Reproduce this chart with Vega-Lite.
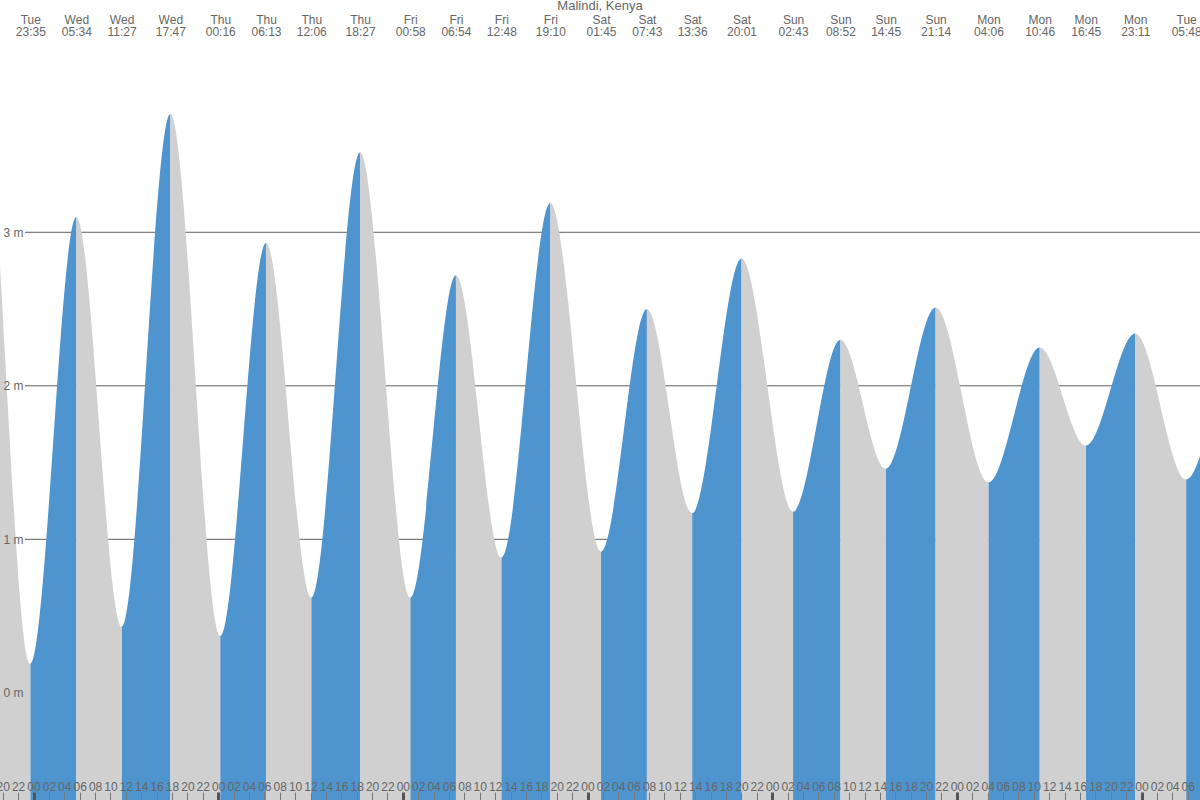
{
  "$schema": "https://vega.github.io/schema/vega-lite/v6.json",
  "width": 1200,
  "height": 800,
  "autosize": {"type": "none"},
  "padding": 0,
  "background": "white",
  "title": {"text": "Malindi, Kenya", "font": "Liberation Sans", "fontSize": 13, "fontWeight": "normal", "color": "#666666", "anchor": "middle", "baseline": "alphabetic", "offset": 0, "dy": 23},
  "config": {"view": {"stroke": null}, "axis": {"labelFont": "Liberation Sans", "labelFontSize": 12, "labelColor": "#666666", "title": null}},
  "datasets": {
    "tides": [
      {"t": -405, "h": 4.0},
      {"t": -25, "h": 0.19},
      {"t": 334, "h": 3.10},
      {"t": 687, "h": 0.43},
      {"t": 1067, "h": 3.77},
      {"t": 1456, "h": 0.37},
      {"t": 1813, "h": 2.93},
      {"t": 2166, "h": 0.62},
      {"t": 2547, "h": 3.52},
      {"t": 2938, "h": 0.62},
      {"t": 3294, "h": 2.72},
      {"t": 3648, "h": 0.88},
      {"t": 4030, "h": 3.19},
      {"t": 4425, "h": 0.92},
      {"t": 4783, "h": 2.50},
      {"t": 5136, "h": 1.17},
      {"t": 5521, "h": 2.83},
      {"t": 5923, "h": 1.18},
      {"t": 6292, "h": 2.30},
      {"t": 6645, "h": 1.46},
      {"t": 7034, "h": 2.51},
      {"t": 7446, "h": 1.37},
      {"t": 7846, "h": 2.25},
      {"t": 8205, "h": 1.61},
      {"t": 8591, "h": 2.34},
      {"t": 8988, "h": 1.39},
      {"t": 9365, "h": 2.16}
    ],
    "grid": [{"level": 1}, {"level": 2}, {"level": 3}]
  },
  "layer": [
    {
      "data": {"name": "grid"},
      "mark": {"type": "rule", "color": "#5e5e5e", "strokeWidth": 1},
      "encoding": {
        "y": {"field": "level", "type": "quantitative",
              "scale": {"domain": [-0.698, 4.513], "nice": false, "zero": false},
              "axis": {"values": [0, 1, 2, 3], "orient": "left", "offset": -25, "domain": false, "ticks": false, "grid": false, "labelPadding": 2, "labelExpr": "datum.value + ' m'", "zindex": 1}},
        "x": {"datum": -1.105, "type": "quantitative", "axis": null},
        "x2": {"datum": 152}
      }
    },
    {
      "data": {"name": "tides"},
      "transform": [
        {"calculate": "datum.t / 60", "as": "hr"},
        {"window": [{"op": "lead", "field": "hr", "as": "hr2"}, {"op": "lead", "field": "h", "as": "h2"}, {"op": "row_number", "as": "seg"}], "sort": [{"field": "hr"}]},
        {"filter": "datum.hr2 != null"},
        {"filter": "datum.h2 > datum.h"},
        {"calculate": "[0, 1, 2, 3]", "as": "k"},
        {"flatten": ["k"]},
        {"calculate": "datum.k == 0 ? datum.hr - 0.01 : datum.k == 1 ? datum.hr : datum.k == 2 ? datum.hr2 : datum.hr2 + 0.01", "as": "px"},
        {"calculate": "datum.k < 2 ? datum.h : datum.h2", "as": "py"}
      ],
      "mark": {"type": "area", "interpolate": "monotone", "color": "#4e94ce", "clip": true},
      "encoding": {
        "x": {"field": "px", "type": "quantitative",
              "scale": {"domain": [-4.354, 151.6], "nice": false, "zero": false},
              "axis": {"orient": "bottom", "offset": -8, "tickCount": 78, "domain": false, "grid": false, "tickSize": 8,
                       "tickWidth": {"condition": {"test": "datum.value % 24 === 0", "value": 3}, "value": 1},
                       "tickColor": {"condition": {"test": "datum.value % 24 === 0", "value": "#555555"}, "value": "#777777"},
                       "labelPadding": -10, "labelBaseline": "alphabetic", "labelOverlap": false, "labelFlush": false, "labelBound": false,
                       "labelExpr": "format(((datum.value % 24) + 24) % 24, '02d')", "zindex": 1}},
        "y": {"field": "py", "type": "quantitative", "stack": null,
              "axis": {"values": [0, 1, 2, 3], "orient": "left", "offset": -25, "domain": false, "ticks": false, "grid": false, "labelPadding": 2, "labelExpr": "datum.value + ' m'", "zindex": 1}},
        "y2": {"value": "height"},
        "detail": {"field": "seg", "type": "nominal"}
      }
    },
    {
      "data": {"name": "tides"},
      "transform": [
        {"calculate": "datum.t / 60", "as": "hr"},
        {"window": [{"op": "lead", "field": "hr", "as": "hr2"}, {"op": "lead", "field": "h", "as": "h2"}, {"op": "row_number", "as": "seg"}], "sort": [{"field": "hr"}]},
        {"filter": "datum.hr2 != null"},
        {"filter": "datum.h2 < datum.h"},
        {"calculate": "[0, 1, 2, 3]", "as": "k"},
        {"flatten": ["k"]},
        {"calculate": "datum.k == 0 ? datum.hr - 0.01 : datum.k == 1 ? datum.hr : datum.k == 2 ? datum.hr2 : datum.hr2 + 0.01", "as": "px"},
        {"calculate": "datum.k < 2 ? datum.h : datum.h2", "as": "py"}
      ],
      "mark": {"type": "area", "interpolate": "monotone", "color": "#d0d0d0", "clip": true},
      "encoding": {
        "x": {"field": "px", "type": "quantitative",
              "axis": {"orient": "top", "offset": -26, "ticks": false, "domain": false, "grid": false, "labelPadding": 0,
                       "values": [-0.41667, 5.56667, 11.45, 17.78333, 24.26667, 30.21667, 36.1, 42.45, 48.96667, 54.9, 60.8, 67.16667, 73.75, 79.71667, 85.6, 92.01667, 98.71667, 104.86667, 110.75, 117.23333, 124.1, 130.76667, 136.75, 143.18333, 149.8],
                       "labelBaseline": "bottom", "labelLineHeight": 12.5, "labelOverlap": false, "labelFlush": false, "labelBound": false,
                       "labelExpr": "[['Tue','Wed','Thu','Fri','Sat','Sun','Mon','Tue'][floor(round(datum.value*60)/1440)+1], format(floor(((round(datum.value*60) % 1440 + 1440) % 1440)/60), '02d') + ':' + format((round(datum.value*60) % 60 + 60) % 60, '02d')]",
                       "zindex": 1}},
        "y": {"field": "py", "type": "quantitative", "stack": null,
              "axis": {"values": [0, 1, 2, 3], "orient": "left", "offset": -25, "domain": false, "ticks": false, "grid": false, "labelPadding": 2, "labelExpr": "datum.value + ' m'", "zindex": 1}},
        "y2": {"value": "height"},
        "detail": {"field": "seg", "type": "nominal"}
      }
    }
  ],
  "resolve": {"axis": {"x": "independent"}}
}
